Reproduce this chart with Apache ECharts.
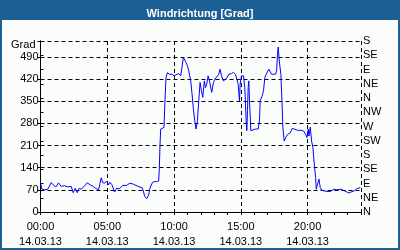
<!DOCTYPE html>
<html><head><meta charset="utf-8">
<script src="https://cdn.jsdelivr.net/npm/echarts@6/dist/echarts.min.js"></script>
<style>html,body{margin:0;padding:0;background:#1c5f94}#c{width:400px;height:250px}</style>
</head><body><div id="c"></div>
<script>
// time in hours (14.03.13), wind direction in degrees
const hours = [0.00,0.10,0.30,0.55,0.80,0.95,1.15,1.35,1.55,1.80,2.05,2.30,2.45,2.60,2.75,2.90,3.05,3.30,3.50,3.75,3.95,4.15,4.35,4.45,4.55,4.65,4.80,4.95,5.10,5.20,5.35,5.55,5.70,5.90,6.15,6.45,6.70,6.95,7.15,7.40,7.60,7.70,7.80,7.95,8.10,8.20,8.35,8.50,8.70,8.85,8.90,8.95,9.00,9.25,9.32,9.40,9.50,9.65,9.85,10.00,10.15,10.35,10.50,10.60,10.70,10.80,10.90,11.00,11.10,11.25,11.35,11.45,11.55,11.65,11.75,11.85,11.95,12.05,12.15,12.27,12.35,12.45,12.55,12.68,12.82,12.95,13.07,13.20,13.35,13.45,13.55,13.70,13.80,13.95,14.10,14.30,14.45,14.60,14.70,14.80,14.90,14.95,15.05,15.20,15.30,15.40,15.45,15.50,15.55,15.60,15.65,15.75,15.85,16.10,16.30,16.40,16.45,16.55,16.60,16.70,16.80,16.90,17.00,17.10,17.20,17.30,17.45,17.60,17.68,17.75,17.80,17.88,18.00,18.08,18.15,18.25,18.35,18.50,18.70,18.85,19.05,19.25,19.50,19.70,19.85,19.95,20.05,20.10,20.20,20.30,20.40,20.50,20.60,20.65,20.75,20.85,20.95,21.05,21.40,21.70,22.00,22.20,22.50,22.80,23.10,23.30,23.50,23.70,23.95];
const degrees = [93,72,70,72,93,86,79,92,81,83,79,81,61,75,61,75,72,83,92,85,81,74,70,89,108,93,91,97,86,94,86,63,75,73,84,84,91,88,84,79,77,67,49,42,54,75,91,96,96,98,140,214,262,267,351,425,440,435,435,430,433,437,430,435,488,493,472,462,446,414,372,325,288,262,288,351,409,383,362,414,393,404,430,409,378,409,420,420,435,451,430,414,409,423,435,437,441,435,420,404,351,404,430,430,393,288,257,320,393,414,351,257,259,262,262,288,351,346,367,383,425,435,435,451,446,435,435,435,446,498,521,477,435,351,266,224,235,245,250,264,261,258,258,256,245,235,261,240,268,224,203,151,109,72,88,104,77,69,65,65,72,70,72,66,60,64,67,74,77];
const leftTicks = [0,70,140,210,280,350,420,490];
const dirLabels = ['N','NE','E','SE','S','SW','W','NW','N','NE','E','SE','S'];
const dateLabel = '14.03.13';
const titleText = 'Windrichtung [Grad]';

const FONT = 'Liberation Sans';
const chart = echarts.init(document.getElementById('c'), null, {renderer:'canvas'});
const pad = n => (n < 10 ? '0' : '') + n;
chart.setOption({
  backgroundColor: '#1c5f94',
  animation: false,
  textStyle: {fontFamily: FONT},
  title: {text: titleText, left: 'center', top: 3,
    textStyle: {color: '#ffffff', fontWeight: 'bold', fontSize: 11, fontFamily: FONT}},
  graphic: [{type: 'rect', z: -10, silent: true, shape: {x: 2, y: 20, width: 396, height: 228}, style: {fill: '#fbfdfb'}}],
  grid: {left: 40.5, right: 39, top: 41, bottom: 38, containLabel: false},
  xAxis: [{
    type: 'value', min: 0, max: 24, interval: 1, position: 'bottom',
    axisLine: {lineStyle: {color: '#000', width: 1}},
    axisTick: {show: true, length: 3, lineStyle: {color: '#000'}},
    splitLine: {show: false},
    axisLabel: {color: '#000', fontSize: 11, fontFamily: FONT, margin: 7, lineHeight: 15,
      formatter: v => (v % 5 === 0 && v < 24) ? pad(v) + ':00\n' + dateLabel : ''}
  }, {
    type: 'value', min: 0, max: 24, interval: 5, position: 'top',
    axisLine: {show: true, lineStyle: {color: '#000', width: 1}},
    axisTick: {show: false}, axisLabel: {show: false},
    splitLine: {show: true, lineStyle: {color: '#000', type: [4, 3], width: 1}}
  }],
  yAxis: [{
    type: 'value', min: 0, max: 540, interval: 70, position: 'left',
    name: 'Grad', nameLocation: 'end', nameGap: -4,
    nameTextStyle: {color: '#000', fontSize: 11, fontFamily: FONT, align: 'right', verticalAlign: 'middle', padding: [0, 5, 0, 0]},
    axisLine: {show: true, lineStyle: {color: '#000', width: 1}},
    axisTick: {show: true, length: 3, lineStyle: {color: '#000'}},
    axisLabel: {color: '#000', fontSize: 11, fontFamily: FONT, margin: 2,
      formatter: v => leftTicks.indexOf(v) >= 0 ? String(v) : ''},
    splitLine: {show: true, lineStyle: {color: '#000', type: [4, 3], width: 1}}
  }, {
    type: 'value', min: 0, max: 540, interval: 45, position: 'right',
    axisLine: {show: true, lineStyle: {color: '#000', width: 1}},
    axisTick: {show: true, length: 3, lineStyle: {color: '#000'}},
    axisLabel: {color: '#000', fontSize: 11, fontFamily: FONT, margin: 2,
      formatter: v => dirLabels[Math.round(v / 45)] || ''},
    splitLine: {show: false}
  }],
  series: [{
    type: 'line', xAxisIndex: 0, yAxisIndex: 0,
    data: hours.map((h, i) => [h, degrees[i]]),
    showSymbol: false, symbol: 'none',
    lineStyle: {color: '#0000ff', width: 1},
    z: 5
  }]
});
</script></body></html>
